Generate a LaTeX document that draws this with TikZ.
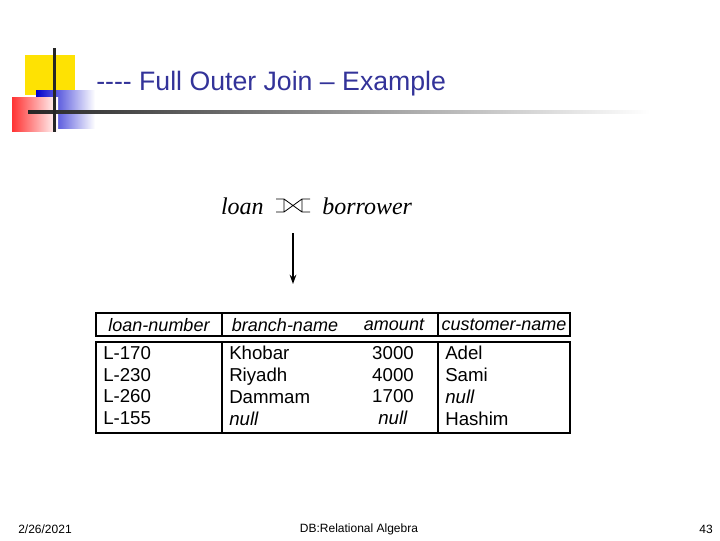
\documentclass[tikz,border=0pt]{standalone}
\usepackage{fontspec}
\usetikzlibrary{arrows.meta}
\setmainfont{Liberation Sans}
\newfontfamily\tnr{Liberation Serif}
\definecolor{ttl}{HTML}{333399}
\begin{document}
\begin{tikzpicture}[x=0.75pt,y=-0.75pt,
  cell/.style={inner sep=0pt,font=\fontsize{14}{16.3}\selectfont},
  hdr/.style={anchor=center,inner sep=0pt,font=\fontsize{13.5}{15}\selectfont\itshape},
  foot/.style={inner sep=0pt,font=\fontsize{9}{11}\selectfont}]
\useasboundingbox (0,0) rectangle (720,540);
% decoration
\fill[yellow!85!orange] (25,55) rectangle (75,95);
\shade[left color=blue!80!black,right color=white] (36,90) rectangle (95,128);
\shade[left color=red!80,right color=white] (12,97) rectangle (58,131);
\shade[left color=black!85,right color=white] (28,110.5) rectangle (650,113.5);
\fill[black!85] (52.5,48) rectangle (55.5,132);
\node[anchor=west,inner sep=0pt,text=ttl,font=\fontsize{20}{22}\selectfont] (title) at (96,84) {-{}-{}-{}- Full Outer Join -- Example};
% expression
\node[anchor=east,inner sep=0pt,font=\tnr\itshape\fontsize{18}{20}\selectfont] (loan) at (264,206) {loan};
\node[anchor=west,inner sep=0pt,font=\tnr\itshape\fontsize{18}{20}\selectfont] (bor) at (322,206) {borrower};
\draw[line width=0.6pt] (276,199)--(284,199)--(284,212)--(276,212)
  (284,199)--(302,212) (284,212)--(302,199)
  (310,199)--(302,199)--(302,212)--(310,212);
\coordinate (a1) at (293,233);
\coordinate (a2) at (293,284);
\draw[line width=1.2pt,-{Stealth[length=7pt,width=5pt]}] (a1)--(a2);
% table
\draw[line width=0.8pt] (96,313) rectangle (570,336);
\draw[line width=0.8pt] (96,342) rectangle (570,433);
\draw[line width=0.8pt] (222,313)--(222,336) (438,313)--(438,336)
  (222,342)--(222,433) (438,342)--(438,433);
\node[hdr] (h1) at (159,325) {loan-number};
\node[hdr] (h2) at (285,325) {branch-name};
\node[hdr] (h3) at (394,325) {amount};
\node[hdr] (h4) at (504,325) {customer-name};
\node[cell,align=left,anchor=north west] (c1) at (103,346) {L-170\\L-230\\L-260\\L-155};
\node[cell,align=left,anchor=north west] (c2) at (229,346) {Khobar\\Riyadh\\Dammam\\\textit{null}};
\node[cell,align=center,anchor=north] (c3) at (393,346) {3000\\4000\\1700\\\textit{null}};
\node[cell,align=left,anchor=north west] (c4) at (445,346) {Adel\\Sami\\\textit{null}\\Hashim};
% footer
\node[foot] (f1) at (45,529) {2/26/2021};
\node[foot] (f2) at (359,529) {DB:Relational Algebra};
\node[foot] (f3) at (706,529) {43};
\end{tikzpicture}
\end{document}
